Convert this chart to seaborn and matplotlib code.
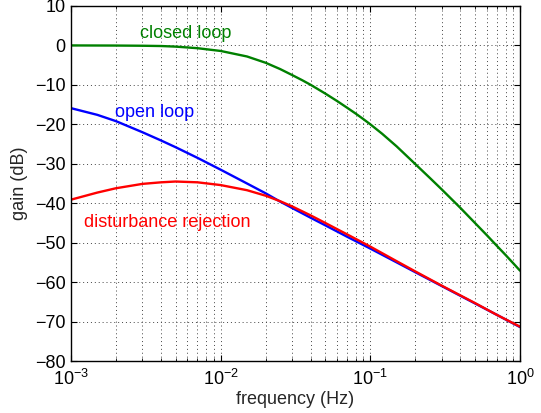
import numpy as np
import pandas as pd
import matplotlib
matplotlib.use("Agg")
import matplotlib.pyplot as plt
import seaborn as sns
from matplotlib.ticker import LogLocator, FixedLocator, NullFormatter

# Frequency response magnitudes (dB) at sampled frequencies (Hz)
freq_closed = [1e-3, 2e-3, 3e-3, 4e-3, 5e-3, 7e-3, 0.01, 0.015, 0.02, 0.025, 0.03,
               0.035, 0.04, 0.05, 0.06, 0.07, 0.08, 0.09, 0.1, 0.12, 0.15, 0.2,
               0.25, 0.3, 0.4, 0.5, 0.6, 0.7, 0.8, 0.9, 1.0]
gain_closed = [0.0, -0.03, -0.08, -0.15, -0.3, -0.7, -1.4, -2.8, -4.4, -6.0, -7.5,
               -8.8, -10.0, -12.2, -14.1, -15.8, -17.3, -18.7, -20.0, -22.4,
               -25.6, -30.1, -33.6, -36.5, -41.2, -45.0, -48.1, -50.8, -53.1,
               -55.2, -57.1]

freq_open = [1e-3, 1.5e-3, 2e-3, 3e-3, 4e-3, 5e-3, 7e-3, 0.01, 0.015, 0.02, 0.025,
             0.03, 0.04, 0.05, 0.07, 0.1, 0.15, 0.2, 0.3, 0.5, 0.7, 1.0]
gain_open = [-15.9, -17.6, -19.2, -22.0, -24.1, -25.8, -28.5, -31.5, -35.0, -37.5,
             -39.6, -41.2, -43.7, -45.6, -48.5, -51.5, -55.0, -57.5, -61.0, -65.4,
             -68.3, -71.4]

freq_dist = [1e-3, 1.5e-3, 2e-3, 3e-3, 4e-3, 5e-3, 7e-3, 0.01, 0.015, 0.02, 0.025,
             0.03, 0.04, 0.05, 0.07, 0.1, 0.15, 0.2, 0.3, 0.5, 0.7, 1.0]
gain_dist = [-39.1, -37.3, -36.2, -35.1, -34.7, -34.5, -34.7, -35.4, -36.7, -38.1,
             -39.5, -40.8, -43.1, -45.0, -47.9, -51.0, -54.7, -57.3, -60.9, -65.3,
             -68.3, -71.3]

series_names = ["closed loop", "open loop", "disturbance rejection"]
series_colors = ["#008000", "#0000ff", "#ff0000"]
label_pos = [(2.9e-3, 2.9), (1.97e-3, -17.1), (1.22e-3, -45.0)]

y_ticks = list(range(-80, 11, 10))

df = pd.concat([
    pd.DataFrame({"freq": freq_closed, "gain": gain_closed, "curve": series_names[0]}),
    pd.DataFrame({"freq": freq_open, "gain": gain_open, "curve": series_names[1]}),
    pd.DataFrame({"freq": freq_dist, "gain": gain_dist, "curve": series_names[2]}),
])

sns.set_style("ticks")
plt.rcParams["font.family"] = ["Liberation Sans", "DejaVu Sans"]
plt.rcParams["mathtext.fontset"] = "custom"
plt.rcParams["mathtext.rm"] = "Liberation Sans"
plt.rcParams["mathtext.it"] = "Liberation Sans:italic"
plt.rcParams["mathtext.bf"] = "Liberation Sans:bold"

fig = plt.figure(figsize=(5.41, 4.13), dpi=100)
ax = fig.add_axes([0.1312, 0.1259, 0.8300, 0.8596])

sns.lineplot(data=df, x="freq", y="gain", hue="curve", hue_order=series_names,
             palette=series_colors, linewidth=1.7, legend=False, sort=False,
             estimator=None, ax=ax)

ax.set_xscale("log")
ax.set_xlim(1e-3, 1.0)
ax.set_ylim(-80, 10)
ax.yaxis.set_major_locator(FixedLocator(y_ticks))
ax.xaxis.set_major_locator(LogLocator(base=10, numticks=10))
ax.xaxis.set_minor_locator(LogLocator(base=10, subs=np.arange(2, 10), numticks=20))
ax.xaxis.set_minor_formatter(NullFormatter())

ax.grid(True, which="major", linestyle=(0, (1, 3)), color="#444444", linewidth=0.7)
ax.grid(True, which="minor", axis="x", linestyle=(0, (1, 3)), color="#444444",
        linewidth=0.7)

ax.tick_params(which="both", direction="in", top=True, right=True,
               labelsize=13, colors="black")
ax.tick_params(which="major", length=4, width=0.8)
ax.tick_params(which="minor", length=2, width=0.6)
ax.tick_params(axis="x", which="major", pad=6)
ax.tick_params(axis="y", which="major", pad=4)
for sp in ax.spines.values():
    sp.set_visible(True)
    sp.set_color("black")
    sp.set_linewidth(1.0)

ax.set_xlabel("frequency (Hz)", fontsize=13, labelpad=1)
ax.set_ylabel("gain (dB)", fontsize=13, labelpad=5)

for name, color, (lx, ly) in zip(series_names, series_colors, label_pos):
    ax.text(lx, ly, name, color=color, fontsize=13, ha="left", va="center")

fig.savefig("out.png", dpi=100)
